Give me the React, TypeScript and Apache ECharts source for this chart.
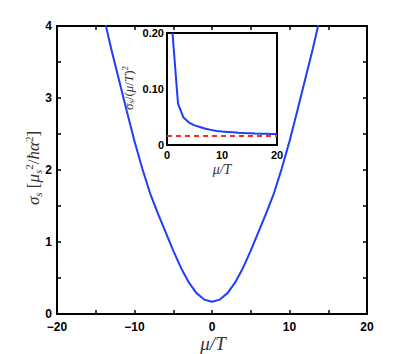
import React, { useEffect, useRef } from "react";
import * as echarts from "echarts";

// Main curve: sigma_s vs mu/T
const mainMu = [-14, -13, -12, -11, -10, -9, -8, -7, -6, -5, -4, -3, -2, -1, 0, 1, 2, 3, 4, 5, 6, 7, 8, 9, 10, 11, 12, 13, 14];
const mainSigma = [4.15, 3.68, 3.25, 2.82, 2.4, 2.02, 1.68, 1.4, 1.14, 0.88, 0.64, 0.44, 0.29, 0.2, 0.17, 0.2, 0.29, 0.44, 0.64, 0.88, 1.14, 1.4, 1.68, 2.02, 2.4, 2.82, 3.25, 3.68, 4.15];

// Inset: sigma_s / (mu/T)^2
const insetMu = [1, 2, 3, 4, 5, 6, 7, 8, 9, 10, 11, 12, 13, 14, 15, 16, 17, 18, 19, 20];
const insetRatio = [0.2, 0.074, 0.049, 0.04, 0.035, 0.032, 0.029, 0.027, 0.025, 0.024, 0.0233, 0.0226, 0.0219, 0.0213, 0.0209, 0.0205, 0.0202, 0.02, 0.0198, 0.0196];
const insetLimitX = [0, 20];
const insetLimit = 0.016;

const mainXLabels = [-20, -10, 0, 10, 20];
const mainYLabels = [0, 1, 2, 3, 4];
const insetXLabels = [0, 10, 20];
const insetYLabels = [0, 0.1, 0.2];

const near = (v: number, list: number[]) => list.some((t) => Math.abs(t - v) < 1e-6);

const tickFont = { fontFamily: "Liberation Sans, Arial, sans-serif", fontWeight: "bold" as const, color: "#000" };
const serif = "Liberation Serif, Times New Roman, serif";

export default function App() {
  const ref = useRef<HTMLDivElement>(null);
  useEffect(() => {
    document.body.style.margin = "0";
    const chart = echarts.init(ref.current!, undefined, { renderer: "svg" });
    const tick = { show: true, inside: true, length: 4, lineStyle: { color: "#000", width: 1.5 } };
    const noLine = { show: false, onZero: false };
    const noLabel = { show: false };
    const option: any = {
      animation: false,
      backgroundColor: "#fff",
      grid: [
        { left: 57, top: 26, width: 310, height: 288, show: true, borderColor: "#000", borderWidth: 2, backgroundColor: "transparent" },
        { left: 167, top: 33, width: 110, height: 112, show: true, borderColor: "#000", borderWidth: 2, backgroundColor: "#fff", z: 5 },
      ],
      xAxis: [
        {
          type: "value", gridIndex: 0, min: -20, max: 20, interval: 5, position: "bottom",
          axisLine: noLine, axisTick: tick, splitLine: { show: false },
          axisLabel: {
            ...tickFont, fontSize: 12, lineHeight: 12, margin: 7,
            formatter: (v: number) => (near(v, mainXLabels) ? String(v).replace("-", "\u2212") : ""),
          },
        },
        {
          type: "value", gridIndex: 0, min: -20, max: 20, interval: 5, position: "top",
          axisLine: noLine, axisTick: tick, splitLine: { show: false }, axisLabel: noLabel,
        },
        {
          type: "value", gridIndex: 1, min: 0, max: 20, interval: 5, position: "bottom",
          axisLine: noLine, axisTick: { ...tick, length: 3 }, splitLine: { show: false },
          axisLabel: {
            ...tickFont, fontSize: 11, lineHeight: 11, margin: 4,
            formatter: (v: number) => (near(v, insetXLabels) ? String(v) : ""),
          },
        },
      ],
      yAxis: [
        {
          type: "value", gridIndex: 0, min: 0, max: 4, interval: 0.5, position: "left",
          axisLine: noLine, axisTick: tick, splitLine: { show: false },
          axisLabel: {
            ...tickFont, fontSize: 12, lineHeight: 12, margin: 5,
            formatter: (v: number) => (near(v, mainYLabels) ? String(v) : ""),
          },
        },
        {
          type: "value", gridIndex: 0, min: 0, max: 4, interval: 0.5, position: "right",
          axisLine: noLine, axisTick: tick, splitLine: { show: false }, axisLabel: noLabel,
        },
        {
          type: "value", gridIndex: 1, min: 0, max: 0.2, interval: 0.05, position: "left",
          axisLine: noLine, axisTick: { ...tick, length: 3 }, splitLine: { show: false },
          axisLabel: {
            ...tickFont, fontSize: 11, lineHeight: 11, margin: 3,
            formatter: (v: number) => (near(v, insetYLabels) ? (v === 0 ? "0" : v.toFixed(2)) : ""),
          },
        },
      ],
      series: [
        {
          type: "line", xAxisIndex: 0, yAxisIndex: 0, symbol: "none", clip: true,
          lineStyle: { color: "#1f3cff", width: 2 },
          data: mainMu.map((m, i) => [m, mainSigma[i]]),
        },
        {
          type: "line", xAxisIndex: 2, yAxisIndex: 2, symbol: "none", clip: true, z: 6,
          lineStyle: { color: "#1f3cff", width: 2 },
          data: insetMu.map((m, i) => [m, insetRatio[i]]),
        },
        {
          type: "line", xAxisIndex: 2, yAxisIndex: 2, symbol: "none", clip: true, z: 6,
          lineStyle: { color: "#ff2a1a", width: 2, type: [5, 4] },
          data: insetLimitX.map((m) => [m, insetLimit]),
        },
      ],
      graphic: [
        {
          type: "text", x: 213, y: 343, z: 10,
          style: { text: "μ/T", font: `italic 19px ${serif}`, fill: "#333", align: "center", verticalAlign: "middle" },
        },
        {
          type: "text", x: 33, y: 168, rotation: Math.PI / 2, z: 10,
          style: {
            text: "{i|σ}{sub|s}{r| [}{i|μ}{sub|s}{sup|2}{r|/}{i|ħα}{sup|2}{r|]}",
            align: "center", verticalAlign: "middle", fill: "#333",
            rich: {
              i: { fontFamily: serif, fontStyle: "italic", fontSize: 17, lineHeight: 20, verticalAlign: "middle", fill: "#333" },
              r: { fontFamily: serif, fontSize: 17, lineHeight: 20, verticalAlign: "middle", fill: "#333" },
              sub: { fontFamily: serif, fontStyle: "italic", fontSize: 11, lineHeight: 11, verticalAlign: "bottom", fill: "#333" },
              sup: { fontFamily: serif, fontSize: 11, lineHeight: 11, verticalAlign: "top", fill: "#333" },
            },
          },
        },
        {
          type: "text", x: 222, y: 169, z: 10,
          style: { text: "μ/T", font: `italic 14px ${serif}`, fill: "#333", align: "center", verticalAlign: "middle" },
        },
        {
          type: "text", x: 128, y: 88, rotation: Math.PI / 2, z: 10,
          style: {
            text: "{i|σ}{sub|s}{r|/(}{i|μ}{r|/}{i|T}{r|)}{sup|2}",
            align: "center", verticalAlign: "middle", fill: "#333",
            rich: {
              i: { fontFamily: serif, fontStyle: "italic", fontSize: 13, lineHeight: 15, verticalAlign: "middle", fill: "#333" },
              r: { fontFamily: serif, fontSize: 13, lineHeight: 15, verticalAlign: "middle", fill: "#333" },
              sub: { fontFamily: serif, fontStyle: "italic", fontSize: 9, lineHeight: 9, verticalAlign: "bottom", fill: "#333" },
              sup: { fontFamily: serif, fontSize: 9, lineHeight: 9, verticalAlign: "top", fill: "#333" },
            },
          },
        },
      ],
    };
    chart.setOption(option);
    return () => chart.dispose();
  }, []);
  return <div ref={ref} style={{ width: 419, height: 354 }} />;
}
